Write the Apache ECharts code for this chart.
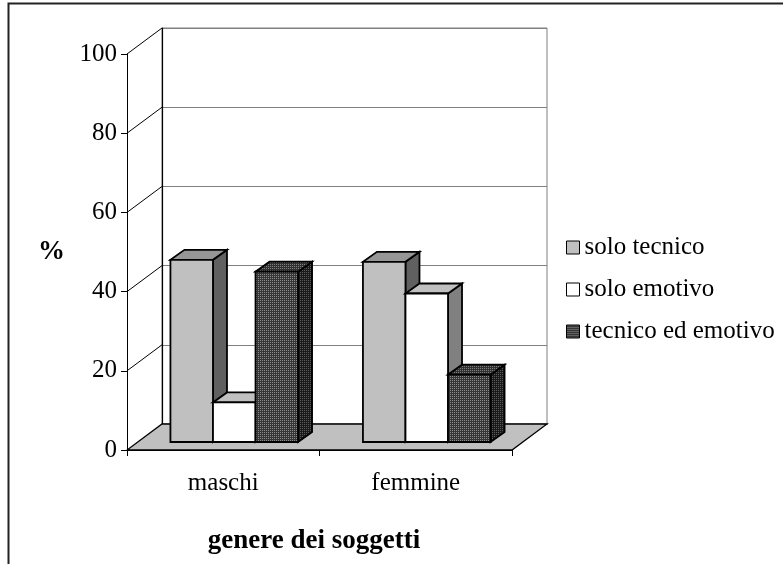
<!DOCTYPE html>
<html>
<head>
<meta charset="utf-8">
<script src="https://cdn.jsdelivr.net/npm/echarts@6/dist/echarts.min.js"></script>
<style>
  html, body { margin: 0; padding: 0; background: #fff; }
  #chart { width: 783px; height: 564px; }
</style>
</head>
<body>
<div id="chart"></div>
<script>
// Survey results by gender (percentages)
const categories = ['maschi', 'femmine'];
const seriesNames = ['solo tecnico', 'solo emotivo', 'tecnico ed emotivo'];
const soloTecnico = [46, 45.5];
const soloEmotivo = [10, 37.5];
const tecnicoEdEmotivo = [43, 17];
const yTicks = [0, 20, 40, 60, 80, 100];

const FONT = "'Liberation Serif', 'Times New Roman', serif";

// Perspective offsets of the 3D box (px)
const DEPTH_X = 35, DEPTH_Y = -26;      // back wall vs. front plane
const BAR_SHIFT_X = 11, BAR_SHIFT_Y = -8; // bar front face inside the floor
const BAR_DX = 14, BAR_DY = -10;        // bar thickness
const BAR_FRAC = 0.221;                 // bar width as share of a category band

// Small dotted fill for the dark bars
function dots(bg, dot) {
  const c = document.createElement('canvas');
  c.width = 2; c.height = 2;
  const g = c.getContext('2d');
  g.fillStyle = bg; g.fillRect(0, 0, 2, 2);
  g.fillStyle = dot; g.fillRect(0, 0, 1, 1);
  return { image: c, repeat: 'repeat' };
}

const faces = [
  { front: '#c0c0c0', top: '#969696', side: '#606060' },
  { front: '#ffffff', top: '#c0c0c0', side: '#808080' },
  { front: dots('#363636', '#8c8c8c'), top: dots('#303030', '#808080'), side: dots('#1a1a1a', '#5c5c5c') }
];
const values = [soloTecnico, soloEmotivo, tecnicoEdEmotivo];

function barRenderer(si) {
  return function (params, api) {
    const cat = api.value(0), val = api.value(1);
    const base = api.coord([cat, 0]);
    const top = api.coord([cat, val]);
    const band = api.size([1, 0])[0];
    const w = band * BAR_FRAC;
    const x0 = base[0] - 1.5 * w + si * w + BAR_SHIFT_X;
    const yb = base[1] + BAR_SHIFT_Y;
    const yt = top[1] + BAR_SHIFT_Y;
    const f = faces[si];
    const stroke = { stroke: '#000', lineWidth: 1.8, lineJoin: 'miter' };
    return {
      type: 'group',
      children: [
        { type: 'polygon', shape: { points: [[x0 + w, yb], [x0 + w, yt], [x0 + w + BAR_DX, yt + BAR_DY], [x0 + w + BAR_DX, yb + BAR_DY]] },
          style: Object.assign({ fill: f.side }, stroke) },
        { type: 'polygon', shape: { points: [[x0, yt], [x0 + w, yt], [x0 + w + BAR_DX, yt + BAR_DY], [x0 + BAR_DX, yt + BAR_DY]] },
          style: Object.assign({ fill: f.top }, stroke) },
        { type: 'rect', shape: { x: x0, y: yt, width: w, height: yb - yt },
          style: Object.assign({ fill: f.front }, stroke) }
      ]
    };
  };
}

// Floor and side-wall lines of the box
function frameRenderer(params, api) {
  const cs = params.coordSys;
  const x = cs.x, yB = cs.y + cs.height, x2 = cs.x + cs.width;
  const children = [];
  yTicks.forEach(function (v) {
    if (v === 0) return;
    const y = api.coord([0, v])[1];
    children.push({ type: 'line', shape: { x1: x, y1: y, x2: x + DEPTH_X, y2: y + DEPTH_Y },
      style: { stroke: '#000', lineWidth: 1 } });
  });
  children.push({ type: 'polygon',
    shape: { points: [[x, yB], [x2, yB], [x2 + DEPTH_X, yB + DEPTH_Y], [x + DEPTH_X, yB + DEPTH_Y]] },
    style: { fill: '#c0c0c0', stroke: '#000', lineWidth: 1.3 } });
  return { type: 'group', children: children };
}

const chart = echarts.init(document.getElementById('chart'), null, { renderer: 'canvas' });

const series = [{
  type: 'custom', name: '_frame', xAxisIndex: 0, yAxisIndex: 0, z: 1,
  data: [[0, 0]], renderItem: frameRenderer, silent: true
}];
seriesNames.forEach(function (name, si) {
  series.push({
    type: 'custom', name: name, xAxisIndex: 0, yAxisIndex: 0, z: 3,
    itemStyle: { color: faces[si].front },
    data: values[si].map(function (v, i) { return [i, v]; }),
    renderItem: barRenderer(si)
  });
});

chart.setOption({
  animation: false,
  backgroundColor: '#fff',
  grid: [
    { left: 127, top: 54, width: 385, height: 396, outerBoundsMode: 'none', containLabel: false },
    { left: 127 + DEPTH_X, top: 54 + DEPTH_Y, width: 385, height: 396, outerBoundsMode: 'none', containLabel: false,
      show: true, borderColor: '#808080', borderWidth: 1, backgroundColor: 'transparent' }
  ],
  xAxis: [
    { type: 'category', gridIndex: 0, data: categories,
      axisLine: { lineStyle: { color: '#000', width: 1 } },
      axisTick: { show: true, length: 6, lineStyle: { color: '#000' } },
      axisLabel: { color: '#000', fontFamily: FONT, fontSize: 25, margin: 21 },
      name: 'genere dei soggetti', nameLocation: 'middle', nameGap: 78,
      nameTextStyle: { color: '#000', fontFamily: FONT, fontSize: 27, fontWeight: 'bold', padding: [0, 11, 0, 0] }
    },
    { type: 'category', gridIndex: 1, data: categories, position: 'top',
      axisLine: { lineStyle: { color: '#000', width: 1.2 } },
      axisTick: { show: false }, axisLabel: { show: false } }
  ],
  yAxis: [
    { type: 'value', gridIndex: 0, min: 0, max: 100, interval: 20,
      axisLine: { show: true, lineStyle: { color: '#000', width: 1 } },
      axisTick: { show: true, length: 6, lineStyle: { color: '#000' } },
      axisLabel: { color: '#000', fontFamily: FONT, fontSize: 25, margin: 10 },
      splitLine: { show: false },
      name: '%', nameLocation: 'middle', nameGap: 62, nameRotate: 0,
      nameTextStyle: { color: '#000', fontFamily: FONT, fontSize: 27, fontWeight: 'bold' }
    },
    { type: 'value', gridIndex: 1, min: 0, max: 100, interval: 20,
      axisLine: { show: true, lineStyle: { color: '#000', width: 1.2 } },
      axisTick: { show: false }, axisLabel: { show: false },
      splitLine: { show: true, lineStyle: { color: '#808080', width: 1 } }
    }
  ],
  legend: {
    orient: 'vertical', left: 561, top: 230, icon: 'rect',
    itemWidth: 13, itemHeight: 13, itemGap: 17,
    textStyle: { color: '#000', fontFamily: FONT, fontSize: 25, lineHeight: 25 },
    data: seriesNames.map(function (n, si) {
      return { name: n, itemStyle: { color: faces[si].front, borderColor: '#000', borderWidth: 1 } };
    })
  },
  graphic: [
    { type: 'polyline', silent: true,
      shape: { points: [[8.5, 564], [8.5, 3.5], [783, 3.5]] },
      style: { stroke: '#222', lineWidth: 2, fill: null } }
  ],
  series: series
});
</script>
</body>
</html>
